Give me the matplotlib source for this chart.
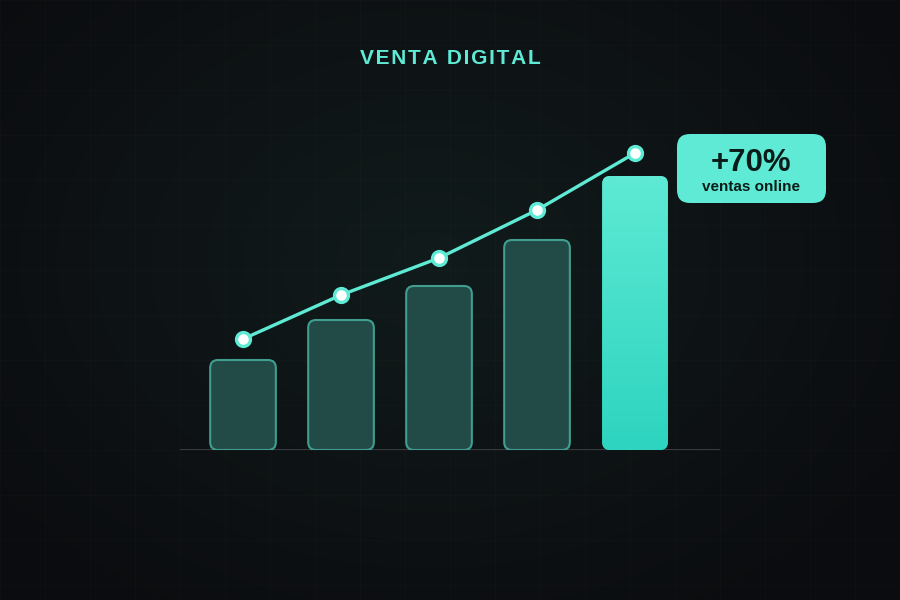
import numpy as np
import matplotlib
matplotlib.use("Agg")
import matplotlib.pyplot as plt
from matplotlib.patches import FancyBboxPatch
from matplotlib.colors import LinearSegmentedColormap

# valores (altura relativa, unidades del gráfico)
categorias = [0, 1, 2, 3, 4]
barras = [90, 130, 164, 210, 274]
linea = [111, 155, 192, 240, 297]
titulo = "VENTA DIGITAL"
badge_num = "+70%"
badge_txt = "ventas online"

teal = "#5EEAD4"
teal2 = "#2DD4BF"
dark_fill = "#224B47"
dark_edge = "#3F9E8F"

fig = plt.figure(figsize=(9, 6), dpi=100)

# fondo con degradado radial y rejilla tenue
bg = fig.add_axes([0, 0, 1, 1])
bg.set_axis_off()
yy, xx = np.mgrid[0:600, 0:900]
r = np.sqrt(((xx - 430) / 560.0) ** 2 + ((yy - 260) / 420.0) ** 2)
r = np.clip(r, 0, 1)
c_in = np.array([0x11, 0x1b, 0x1b]) / 255
c_out = np.array([0x0b, 0x0c, 0x0f]) / 255
img = c_in[None, None, :] * (1 - r[..., None]) + c_out[None, None, :] * r[..., None]
bg.imshow(img, extent=[0, 900, 600, 0], aspect="auto")
for gx in range(0, 901, 45):
    bg.axvline(gx, color="#ffffff", alpha=0.015, lw=1)
for gy in range(0, 601, 45):
    bg.axhline(gy, color="#ffffff", alpha=0.015, lw=1)
bg.set_xlim(0, 900)
bg.set_ylim(600, 0)

# ejes principales
ax = fig.add_axes([0.2, 0.25, 0.6, 0.5])
ax.set_axis_off()
ax.patch.set_alpha(0)
ax.set_xlim(-0.643, 4.867)
ax.set_ylim(0, 300)

w = 0.67
for i, (x, h) in enumerate(zip(categorias, barras)):
    last = i == len(barras) - 1
    p = FancyBboxPatch((x - w / 2, 0), w, h,
                       boxstyle="round,pad=0,rounding_size=0.08",
                       mutation_aspect=98,
                       facecolor=teal2 if last else dark_fill,
                       edgecolor=teal2 if last else dark_edge,
                       lw=0 if last else 1.5, zorder=2)
    ax.add_patch(p)
    if last:
        cmap = LinearSegmentedColormap.from_list("g", [teal2, teal])
        grad = np.linspace(0, 1, 256).reshape(-1, 1)
        im = ax.imshow(grad, extent=[x - w / 2, x + w / 2, 0, h], origin="lower",
                       cmap=cmap, aspect="auto", zorder=3)
        im.set_clip_path(p)

ax.axhline(0, color="#3b4144", lw=2, zorder=1)

ax.plot(categorias, linea, color=teal, lw=2.4, zorder=4, clip_on=False,
        marker="o", markersize=10, markerfacecolor="white",
        markeredgecolor=teal, markeredgewidth=2.4)

# título
fig.text(0.5, 1 - 58 / 600, "\u200a".join(titulo), color=teal, fontsize=15,
         fontweight="bold", ha="center", va="center", family="Liberation Sans")

# etiqueta +70%
bx = fig.add_axes([0, 0, 1, 1])
bx.set_axis_off()
bx.patch.set_alpha(0)
bx.set_xlim(0, 900)
bx.set_ylim(600, 0)
badge = FancyBboxPatch((677, 134), 149, 69, boxstyle="round,pad=0,rounding_size=13",
                       facecolor=teal, edgecolor="none")
bx.add_patch(badge)
bx.text(751, 163, badge_num, color="#0a1c19", fontsize=22.5, fontweight="bold",
        ha="center", va="center", family="Liberation Sans")
bx.text(751, 187, badge_txt, color="#0a1c19", fontsize=11, fontweight="bold",
        ha="center", va="center", family="Liberation Sans")

fig.savefig("out.png", dpi=100)
